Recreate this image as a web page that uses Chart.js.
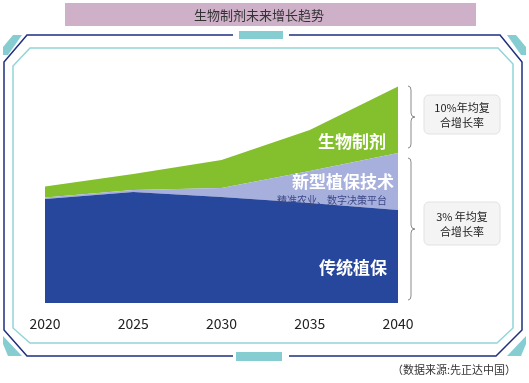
<!DOCTYPE html>
<html>
<head>
<meta charset="utf-8">
<script src="https://cdn.jsdelivr.net/npm/chart.js@4.4.1/dist/chart.umd.min.js"></script>
<style>
  html, body { margin: 0; padding: 0; background: #fff; }
  #wrap { position: relative; width: 529px; height: 383px; }
</style>
</head>
<body>
<div id="wrap"><canvas id="growthChart" width="529" height="383"></canvas></div>
<script>
// values (arbitrary units, stacked)
var years = ['2020', '2025', '2030', '2035', '2040'];
var traditional = [104, 111, 106, 100, 93];   // 传统植保
var newTech = [1.5, 2, 9, 32, 57];            // 新型植保技术
var biologicals = [11, 16, 28, 41, 66.5];     // 生物制剂

var FONT = '"Noto Sans CJK SC", "Noto Sans", sans-serif';

// background frame, title bar, braces and boxes
var framePlugin = {
  id: 'frame',
  beforeDraw: function(chart) {
    var ctx = chart.ctx;
    ctx.save();
    ctx.fillStyle = '#fff';
    ctx.fillRect(0, 0, chart.width, chart.height);

    // title bar
    ctx.fillStyle = '#cfb0c9';
    ctx.fillRect(65, 3, 411, 23);
    ctx.fillStyle = '#333';
    ctx.font = '13px ' + FONT;
    ctx.textAlign = 'center';
    ctx.textBaseline = 'middle';
    ctx.fillText('生物制剂未来增长趋势', 259, 15);

    // teal corner pieces
    ctx.fillStyle = '#86cdd2';
    [[[13, 35], [22, 35], [8, 55], [3, 55], [3, 47]],
     [[516, 35], [507, 35], [521, 55], [526, 55], [526, 47]],
     [[3, 336], [3, 344], [8, 356], [22, 356]],
     [[526, 336], [526, 344], [521, 356], [507, 356]]].forEach(function(p) {
      ctx.beginPath();
      ctx.moveTo(p[0][0], p[0][1]);
      for (var i = 1; i < p.length; i++) ctx.lineTo(p[i][0], p[i][1]);
      ctx.closePath();
      ctx.fill();
    });

    // outer dark frame
    ctx.strokeStyle = '#1f2f7d';
    ctx.lineWidth = 1.5;
    ctx.beginPath();
    ctx.moveTo(27, 35); ctx.lineTo(500, 35); ctx.lineTo(522, 62);
    ctx.lineTo(522, 330); ctx.lineTo(496, 356); ctx.lineTo(27, 356);
    ctx.lineTo(4, 330); ctx.lineTo(4, 62); ctx.closePath();
    ctx.stroke();

    // inner light frame
    ctx.strokeStyle = '#93d4d9';
    ctx.beginPath();
    ctx.moveTo(30, 48); ctx.lineTo(498, 48); ctx.lineTo(513, 64);
    ctx.lineTo(513, 328); ctx.lineTo(497, 343); ctx.lineTo(30, 343);
    ctx.lineTo(13, 328); ctx.lineTo(13, 66); ctx.closePath();
    ctx.stroke();

    // gaps with teal tabs
    ctx.fillStyle = '#fff';
    ctx.fillRect(233, 30, 56, 10);
    ctx.fillRect(233, 351, 56, 11);
    ctx.fillStyle = '#86cdd2';
    ctx.fillRect(239, 31, 44, 8);
    ctx.fillRect(236, 352, 46, 9);

    // braces
    ctx.strokeStyle = '#8a8a8a';
    ctx.lineWidth = 1;
    function brace(x, y1, y2) {
      var m = (y1 + y2) / 2;
      ctx.beginPath();
      ctx.moveTo(x - 3, y1);
      ctx.quadraticCurveTo(x, y1, x, y1 + 4);
      ctx.lineTo(x, m - 4);
      ctx.quadraticCurveTo(x, m, x + 4, m);
      ctx.quadraticCurveTo(x, m, x, m + 4);
      ctx.lineTo(x, y2 - 4);
      ctx.quadraticCurveTo(x, y2, x - 3, y2);
      ctx.stroke();
    }
    brace(411, 86, 148);
    brace(411, 158, 300);

    // rate boxes
    function box(y, h, l1, l2) {
      ctx.fillStyle = '#f4f4f4';
      ctx.strokeStyle = '#e2e2e2';
      ctx.beginPath();
      ctx.roundRect(424, y, 76, h, 5);
      ctx.fill();
      ctx.stroke();
      ctx.fillStyle = '#222';
      ctx.font = '11px ' + FONT;
      ctx.textAlign = 'center';
      ctx.textBaseline = 'middle';
      ctx.fillText(l1, 462, y + h / 2 - 7);
      ctx.fillText(l2, 462, y + h / 2 + 8);
    }
    box(95, 39, '10%年均复', '合增长率');
    box(202, 43, '3% 年均复', '合增长率');

    // source note
    ctx.fillStyle = '#333';
    ctx.font = '11px ' + FONT;
    ctx.textAlign = 'right';
    ctx.fillText('（数据来源:先正达中国）', 516, 370);
    ctx.restore();
  }
};

// series labels inside the areas
var labelPlugin = {
  id: 'areaLabels',
  afterDatasetsDraw: function(chart) {
    var ctx = chart.ctx;
    var x = chart.scales.x;
    var right = x.getPixelForValue(4) - 12;
    ctx.save();
    ctx.textAlign = 'right';
    ctx.textBaseline = 'middle';
    ctx.fillStyle = '#fff';
    ctx.font = 'bold 17px ' + FONT;
    ctx.fillText('生物制剂', right, 142);
    ctx.fillText('传统植保', right + 1, 268);
    ctx.fillText('新型植保技术', right + 8, 182);
    ctx.fillStyle = '#3b4785';
    ctx.font = '10px ' + FONT;
    ctx.fillText('精准农业、数字决策平台', right + 1, 200);
    ctx.restore();
  }
};

var ctx = document.getElementById('growthChart');
new Chart(ctx, {
  type: 'line',
  data: {
    labels: years,
    datasets: [{
      label: '传统植保',
      data: traditional,
      backgroundColor: '#27479c',
      fill: 'origin'
    }, {
      label: '新型植保技术',
      data: newTech,
      backgroundColor: '#a7afdd',
      fill: '-1'
    }, {
      label: '生物制剂',
      data: biologicals,
      backgroundColor: '#84bf2e',
      fill: '-1'
    }]
  },
  options: {
    responsive: false,
    animation: false,
    devicePixelRatio: 1,
    elements: {
      line: { borderWidth: 0, tension: 0 },
      point: { radius: 0 }
    },
    layout: {
      padding: { left: 45, right: 131, top: 80, bottom: 40 }
    },
    plugins: {
      legend: { display: false },
      tooltip: { enabled: false }
    },
    scales: {
      x: {
        grid: { display: false, drawTicks: false },
        border: { display: false },
        ticks: {
          color: '#222',
          padding: 12,
          maxRotation: 0,
          font: { family: FONT, size: 14 }
        },
        afterFit: function(s) { s.height = 40; }
      },
      y: {
        display: false,
        stacked: true,
        min: 0,
        max: 223
      }
    }
  },
  plugins: [framePlugin, labelPlugin]
});
</script>
</body>
</html>
